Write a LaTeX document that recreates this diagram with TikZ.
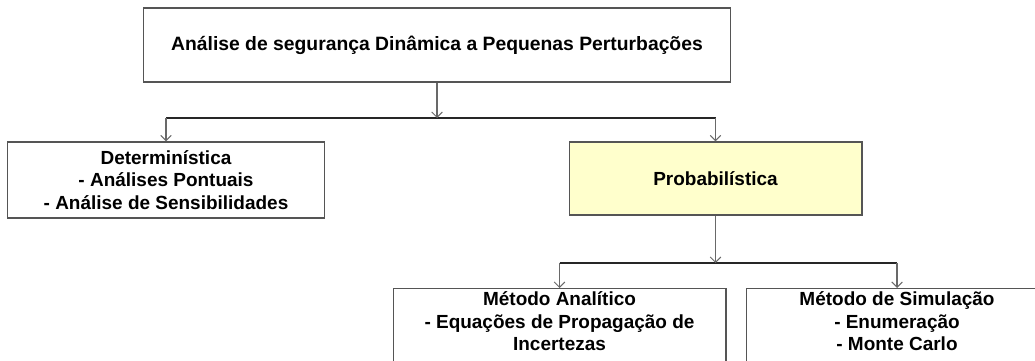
\documentclass[tikz,border=0pt]{standalone}
\usepackage{fontspec}
\setmainfont{Liberation Sans}
\usetikzlibrary{arrows.meta}
\definecolor{boxgray}{RGB}{85,85,85}
\definecolor{arrgray}{RGB}{105,105,105}
\definecolor{probyellow}{RGB}{255,255,204}

\begin{document}
\begin{tikzpicture}[x=0.02cm, y=-0.02cm,
    box/.style={draw=boxgray, line width=0.6pt, fill=white, align=center, inner sep=2pt, font=\bfseries\fontsize{10.8}{12.6}\selectfont},
    arrow/.style={-{Straight Barb[length=3pt,width=6pt]}, draw=arrgray, line width=0.6pt},
    bus/.style={draw=black!85, line width=0.6pt}
]
    \useasboundingbox (0,0) rectangle (1035,361);
    \clip (0,0) rectangle (1035,361);

    % Boxes
    \node[box, minimum width=11.76cm, minimum height=1.48cm, font=\bfseries\fontsize{11}{13}\selectfont] (analise) at (437,45) {Análise de segurança Dinâmica a Pequenas Perturbações};

    \node[box, minimum width=6.36cm, minimum height=1.52cm] (determ) at (166,180) {Determinística\\- Análises Pontuais\\- Análise de Sensibilidades};

    \node[box, fill=probyellow, minimum width=5.86cm, minimum height=1.46cm] (probab) at (715.5,178.5) {Probabilística};

    \node[box, anchor=north, minimum width=6.66cm, text depth=2cm] (analit) at (559.5,288) {Método Analítico\\- Equações de Propagação de\\Incertezas};

    \node[box, anchor=north, minimum width=6.04cm, text depth=2cm] (simul) at (897,288) {Método de Simulação\\- Enumeração\\- Monte Carlo};

    % Bus lines
    \coordinate (busA) at (437,118);
    \coordinate (busB) at (715.5,263);
    \draw[bus] (determ.north |- busA) -- (probab.north |- busA);
    \draw[bus] (analit.north |- busB) -- (simul.north |- busB);

    % Arrows
    \draw[arrow] (analise.south) -- (busA);
    \draw[arrow] (determ.north |- busA) -- (determ.north);
    \draw[arrow] (probab.north |- busA) -- (probab.north);
    \draw[arrow] (probab.south) -- (busB);
    \draw[arrow] (analit.north |- busB) -- (analit.north);
    \draw[arrow] (simul.north |- busB) -- (simul.north);
\end{tikzpicture}
\end{document}
